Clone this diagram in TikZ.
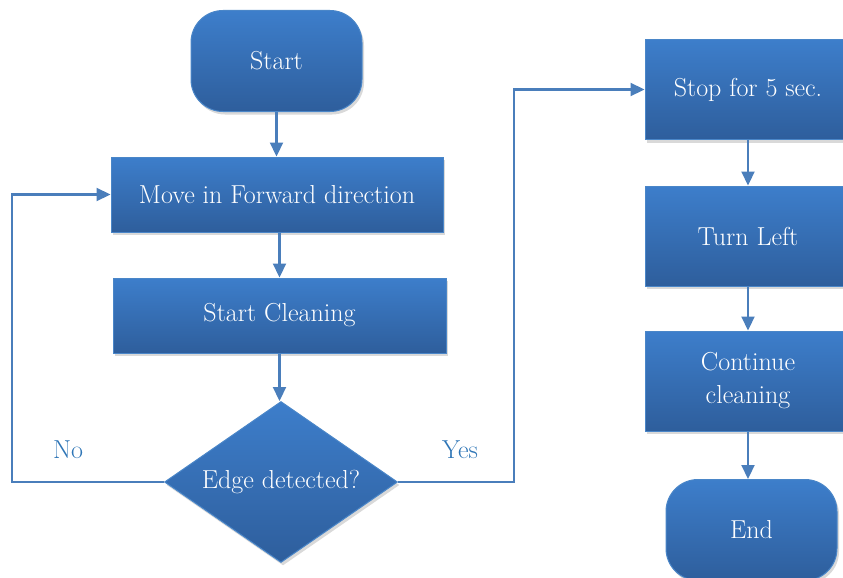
\documentclass[tikz,border=0pt]{standalone}
\usepackage{tikz}
\usetikzlibrary{shapes.geometric,arrows.meta,shadows}

\definecolor{boxtop}{HTML}{3D7ECB}
\definecolor{boxbot}{HTML}{2E5E9C}
\definecolor{boxline}{HTML}{4A86C8}
\definecolor{flowline}{HTML}{4A7EBB}
\definecolor{labelblue}{HTML}{2E75B6}

\begin{document}
\begin{tikzpicture}[x=1pt,y=-1pt,
    blockbase/.style={top color=boxtop, bottom color=boxbot, draw=boxline, line width=1pt,
        text=white, font=\fontsize{26}{33}\selectfont, align=center, inner sep=0pt,
        drop shadow={shadow xshift=2pt, shadow yshift=-3pt, opacity=0.3}},
    procbox/.style={blockbase, rectangle, minimum width=#1, minimum height=75pt},
    sidebox/.style={blockbase, rectangle, minimum width=206pt, minimum height=100pt},
    termbox/.style={blockbase, rectangle, rounded corners=32pt, minimum width=171pt, minimum height=101pt},
    decbox/.style={blockbase, diamond, aspect=1.447, minimum width=233pt, minimum height=161pt},
    flow/.style={draw=flowline, line width=2.2pt, -{Triangle[length=14pt,width=13pt]}},
    answer/.style={text=labelblue, font=\fontsize{26}{33}\selectfont}]
    \useasboundingbox (0,0) rectangle (843,578);

    % left column
    \node[termbox] (start) at (276.5,61) {Start};
    \node[procbox=332pt] (move) at (277,194.5) {Move in Forward direction};
    \node[procbox=333pt] (clean) at (279.5,315.5) {Start Cleaning};
    \node[decbox] (edge) at (281,482) {\raisebox{-5pt}{Edge detected?}};

    % right column
    \node[sidebox] (stop) at (748,89.5) {Stop for 5 sec.};
    \node[sidebox] (turn) at (748,236) {Turn Left};
    \node[sidebox] (cont) at (748,381) {Continue\\cleaning};
    \node[termbox] (end) at (751.5,530) {End};

    % corners of the two loops
    \coordinate (lcorner) at (12,482);
    \coordinate (rcorner) at (514,482);

    \draw[flow] (start.south) -- (start.south |- move.north);
    \draw[flow] (move.south -| clean.north) -- (clean.north);
    \draw[flow] (clean.south) -- (clean.south |- edge.north);
    \draw[flow] (edge.west) -- (lcorner) |- (move.west);
    \draw[flow] (edge.east) -- (rcorner) |- (stop.west);
    \draw[flow] (stop.south) -- (turn.north);
    \draw[flow] (turn.south) -- (cont.north);
    \draw[flow] (cont.south) -- (cont.south |- end.north);

    \node[answer] (no) at (68,450) {No};
    \node[answer] (yes) at (460,450) {Yes};
\end{tikzpicture}
\end{document}
